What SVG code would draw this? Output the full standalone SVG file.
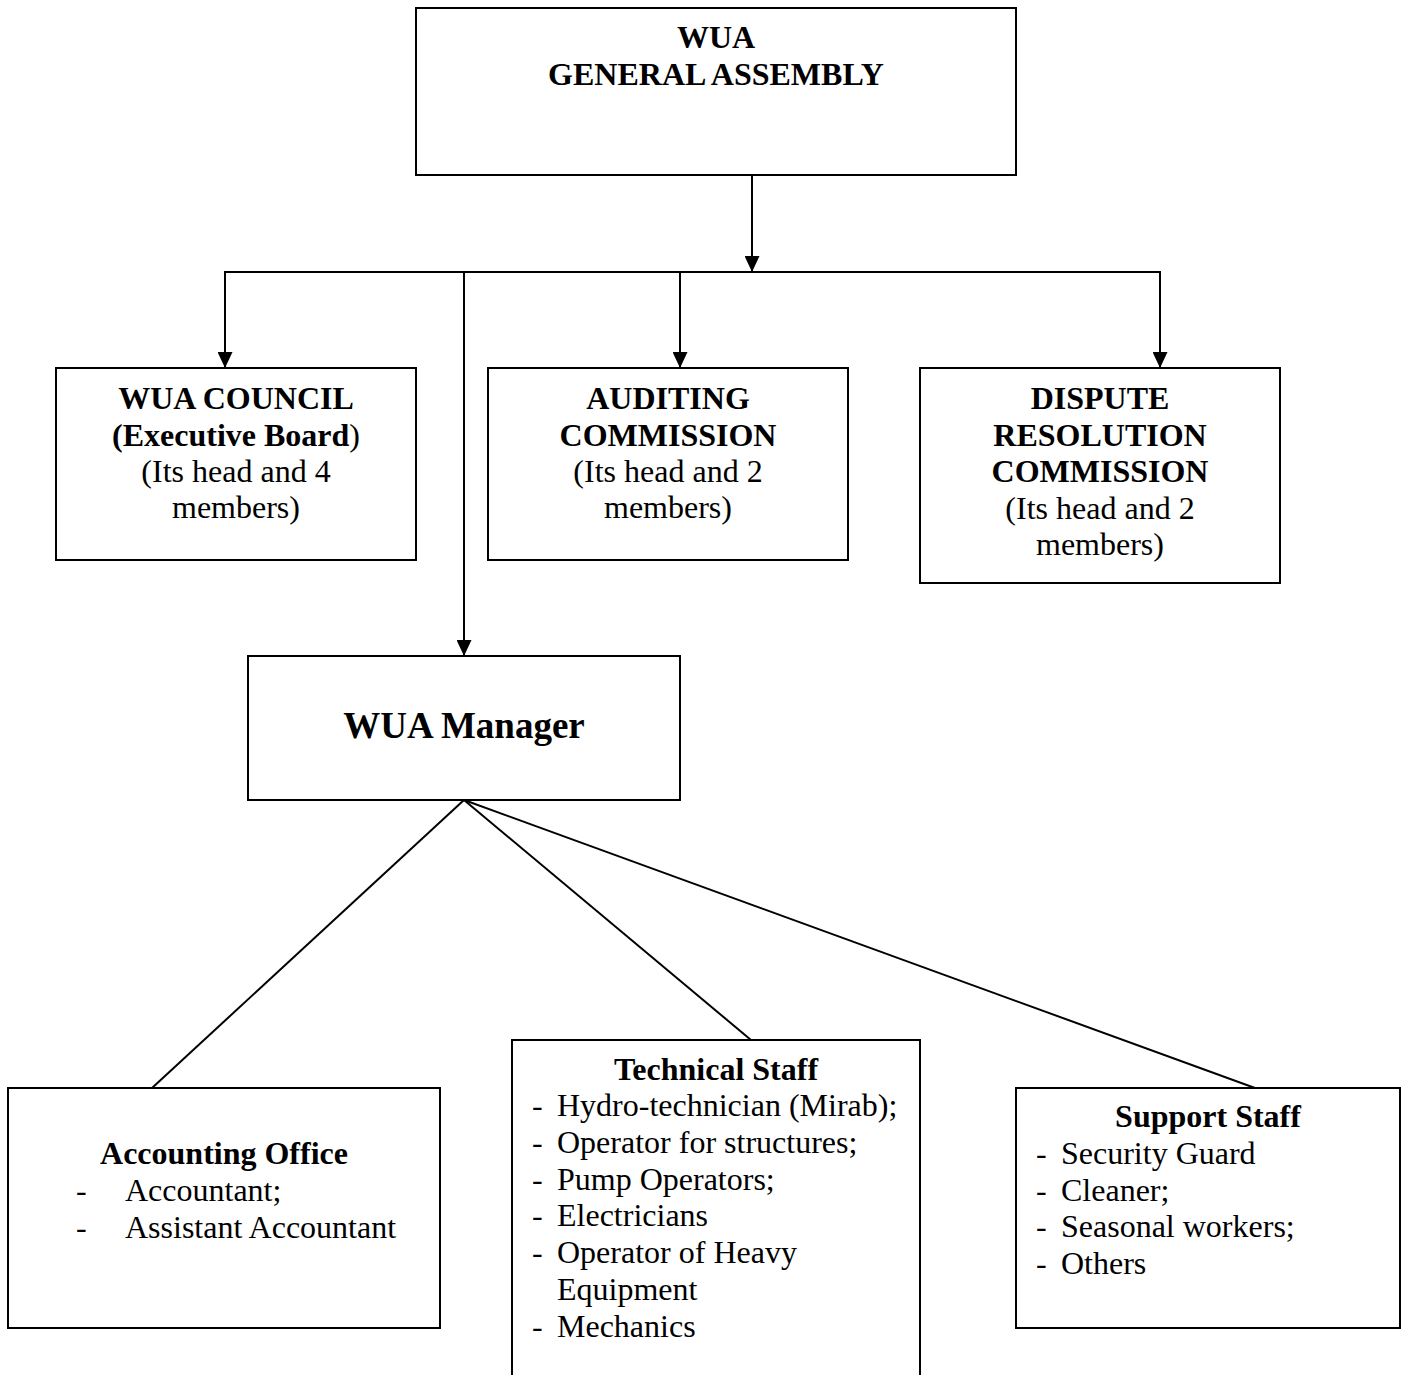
<svg xmlns="http://www.w3.org/2000/svg" width="1406" height="1375" viewBox="0 0 1406 1375">
<style>
.box{fill:#fff;stroke:#000;stroke-width:2}
.ln{fill:none;stroke:#000;stroke-width:2}
text{font-family:"Liberation Serif","Times New Roman",serif;font-size:32px;fill:#000}
.b{font-weight:bold}
.c{text-anchor:middle}
</style>
<defs>
<marker id="ah" markerWidth="16" markerHeight="15" refX="16" refY="7.5" orient="auto" markerUnits="userSpaceOnUse" viewBox="0 0 16 15">
<path d="M0,0 L16,7.5 L0,15 Z" fill="#000"/>
</marker>
</defs>
<rect width="1406" height="1375" fill="#fff"/>
<g id="connectors">
<line class="ln" x1="752" y1="175" x2="752" y2="272" marker-end="url(#ah)"/>
<line class="ln" x1="224" y1="272" x2="1161" y2="272"/>
<line class="ln" x1="225" y1="271" x2="225" y2="368" marker-end="url(#ah)"/>
<line class="ln" x1="680" y1="271" x2="680" y2="368" marker-end="url(#ah)"/>
<line class="ln" x1="1160" y1="271" x2="1160" y2="368" marker-end="url(#ah)"/>
<line class="ln" x1="464" y1="272" x2="464" y2="656" marker-end="url(#ah)"/>
<line class="ln" x1="464" y1="800" x2="152" y2="1088"/>
<line class="ln" x1="464" y1="800" x2="751" y2="1040"/>
<line class="ln" x1="464" y1="800" x2="1255" y2="1088"/>
</g>
<g id="general-assembly">
<rect class="box" x="416" y="8" width="600" height="167"/>
<text class="b c" x="716" y="48">WUA</text>
<text class="b c" x="716" y="85">GENERAL ASSEMBLY</text>
</g>
<g id="council">
<rect class="box" x="56" y="368" width="360" height="192"/>
<text class="b c" x="236" y="409">WUA COUNCIL</text>
<text class="c" x="236" y="446"><tspan class="b">(Executive Board</tspan>)</text>
<text class="c" x="236" y="482">(Its head and 4</text>
<text class="c" x="236" y="518">members)</text>
</g>
<g id="auditing">
<rect class="box" x="488" y="368" width="360" height="192"/>
<text class="b c" x="668" y="409">AUDITING</text>
<text class="b c" x="668" y="446">COMMISSION</text>
<text class="c" x="668" y="482">(Its head and 2</text>
<text class="c" x="668" y="518">members)</text>
</g>
<g id="dispute">
<rect class="box" x="920" y="368" width="360" height="215"/>
<text class="b c" x="1100" y="409">DISPUTE</text>
<text class="b c" x="1100" y="446">RESOLUTION</text>
<text class="b c" x="1100" y="482">COMMISSION</text>
<text class="c" x="1100" y="519">(Its head and 2</text>
<text class="c" x="1100" y="555">members)</text>
</g>
<g id="manager">
<rect class="box" x="248" y="656" width="432" height="144"/>
<text class="b c" x="464" y="738" style="font-size:37px">WUA Manager</text>
</g>
<g id="accounting">
<rect class="box" x="8" y="1088" width="432" height="240"/>
<text class="b c" x="224" y="1164">Accounting Office</text>
<text x="76" y="1201">-</text><text x="125" y="1201">Accountant;</text>
<text x="76" y="1238">-</text><text x="125" y="1238">Assistant Accountant</text>
</g>
<g id="technical">
<path class="box" d="M512,1376 V1040 H920 V1376"/>
<text class="b c" x="716" y="1080">Technical Staff</text>
<text x="532" y="1116">-</text><text x="557" y="1116">Hydro-technician (Mirab);</text>
<text x="532" y="1153">-</text><text x="557" y="1153">Operator for structures;</text>
<text x="532" y="1190">-</text><text x="557" y="1190">Pump Operators;</text>
<text x="532" y="1226">-</text><text x="557" y="1226">Electricians</text>
<text x="532" y="1263">-</text><text x="557" y="1263">Operator of Heavy</text>
<text x="557" y="1300">Equipment</text>
<text x="532" y="1337">-</text><text x="557" y="1337">Mechanics</text>
</g>
<g id="support">
<rect class="box" x="1016" y="1088" width="384" height="240"/>
<text class="b c" x="1208" y="1127">Support Staff</text>
<text x="1036" y="1164">-</text><text x="1061" y="1164">Security Guard</text>
<text x="1036" y="1201">-</text><text x="1061" y="1201">Cleaner;</text>
<text x="1036" y="1237">-</text><text x="1061" y="1237">Seasonal workers;</text>
<text x="1036" y="1274">-</text><text x="1061" y="1274">Others</text>
</g>
</svg>
